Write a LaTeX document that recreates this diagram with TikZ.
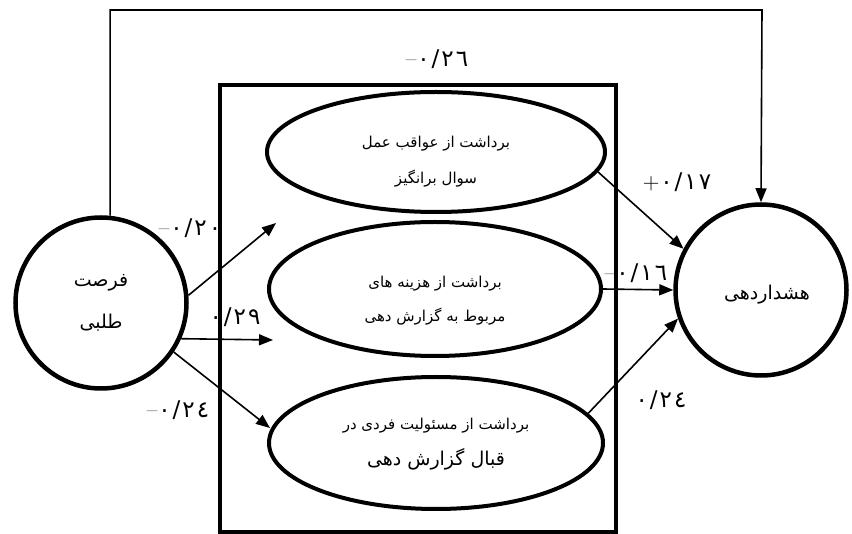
\documentclass[tikz,border=0pt]{standalone}
\usepackage{fontspec}
\usepackage{tikz}
\usetikzlibrary{arrows.meta, shapes.geometric}
\newfontfamily\arabicfont[Script=Arabic]{DejaVu Sans}
\TeXXeTstate=1
\newcommand{\fatext}[1]{{\arabicfont\beginR #1\endR}}
\newcommand{\sgn}[1]{{\normalfont #1}\kern1pt}
\newcommand{\gp}{\kern2pt}
\tikzstyle{circ}=[draw, shape=circle, line width=4.5pt, minimum size=171pt, inner sep=0pt, align=center, font=\fontsize{19}{23}\selectfont]
\tikzstyle{oval}=[draw, shape=ellipse, line width=4pt, inner sep=0pt]
\tikzstyle{ovaltext}=[inner sep=0pt, align=center, font=\fontsize{15}{18}\selectfont]
\tikzstyle{coef}=[inner sep=0pt, font=\arabicfont\fontsize{23}{24}\selectfont]
\tikzstyle{lnk}=[line width=1.6pt, ->]
\tikzset{>={Triangle[length=14pt, width=11pt]}}

\begin{document}
\begin{tikzpicture}[x=1pt, y=-1pt]
\useasboundingbox (0,0) rectangle (852,534);
\node[circ] (opp) at (101,303) {\fatext{فرصت}\\[19pt]\fatext{طلبی}};
\node[circ, label={[font=\fontsize{19}{23}\selectfont, xshift=6pt, yshift=-5pt]center:\fatext{هشداردهی}}] (warn) at (761,290) {};
\node[oval, minimum width=338pt, minimum height=120pt,
  label={[ovaltext, yshift=-10pt]center:{\fatext{برداشت از عواقب عمل}\\[18pt]\fatext{سوال برانگیز}}}] (cons) at (436,152) {};
\node[oval, minimum width=332pt, minimum height=134pt,
  label={[ovaltext, yshift=-12pt]center:{\fatext{برداشت از هزینه های}\\[16pt]\fatext{مربوط به گزارش دهی}}}] (cost) at (435,289) {};
\node[oval, minimum width=334pt, minimum height=132pt,
  label={[ovaltext, yshift=-1pt]center:{\fatext{برداشت از مسئولیت فردی در}\\[15pt]{\fontsize{19}{22}\selectfont\fatext{قبال گزارش دهی}}}}] (resp) at (436,443) {};
\coordinate (top) at (762,10);
\coordinate (t1) at (276,223);
\coordinate (t2) at (273,340);
\coordinate (t3) at (270,428);
% coefficients
\node[coef] (c0) at (437,59) {\sgn{--}٠\gp/\gp٢\gp٦};
\node[coef] (c1) at (190,228) {\sgn{--}٠\gp/\gp٢\gp٠};
\node[coef] (c2) at (235,317) {٠\gp/\gp٢\gp٩};
\node[coef] (c3) at (178,410) {\sgn{--}٠\gp/\gp٢\gp٤};
\node[coef] (c4) at (677,182) {\sgn{+}٠\gp/\gp١\gp٧};
\node[coef] (c5) at (636,273) {\sgn{--}٠\gp/\gp١\gp٦};
\node[coef] (c6) at (661,400) {٠\gp/\gp٢\gp٤};
\draw[line width=4.5pt] (220,85) rectangle (616,532);
\draw[lnk] (opp.5) -- (t1);
\draw[lnk] (opp.-24) -- (t2);
\draw[lnk] (opp.-34) -- (t3);
\draw[lnk] (cons.-7) -- (warn.152);
\draw[lnk] (cost.east) -- (warn.west);
\draw[lnk] (resp.11) -- (warn.199);
\draw[lnk] (opp.84) |- (top) -- (warn.north);
\end{tikzpicture}
\end{document}
